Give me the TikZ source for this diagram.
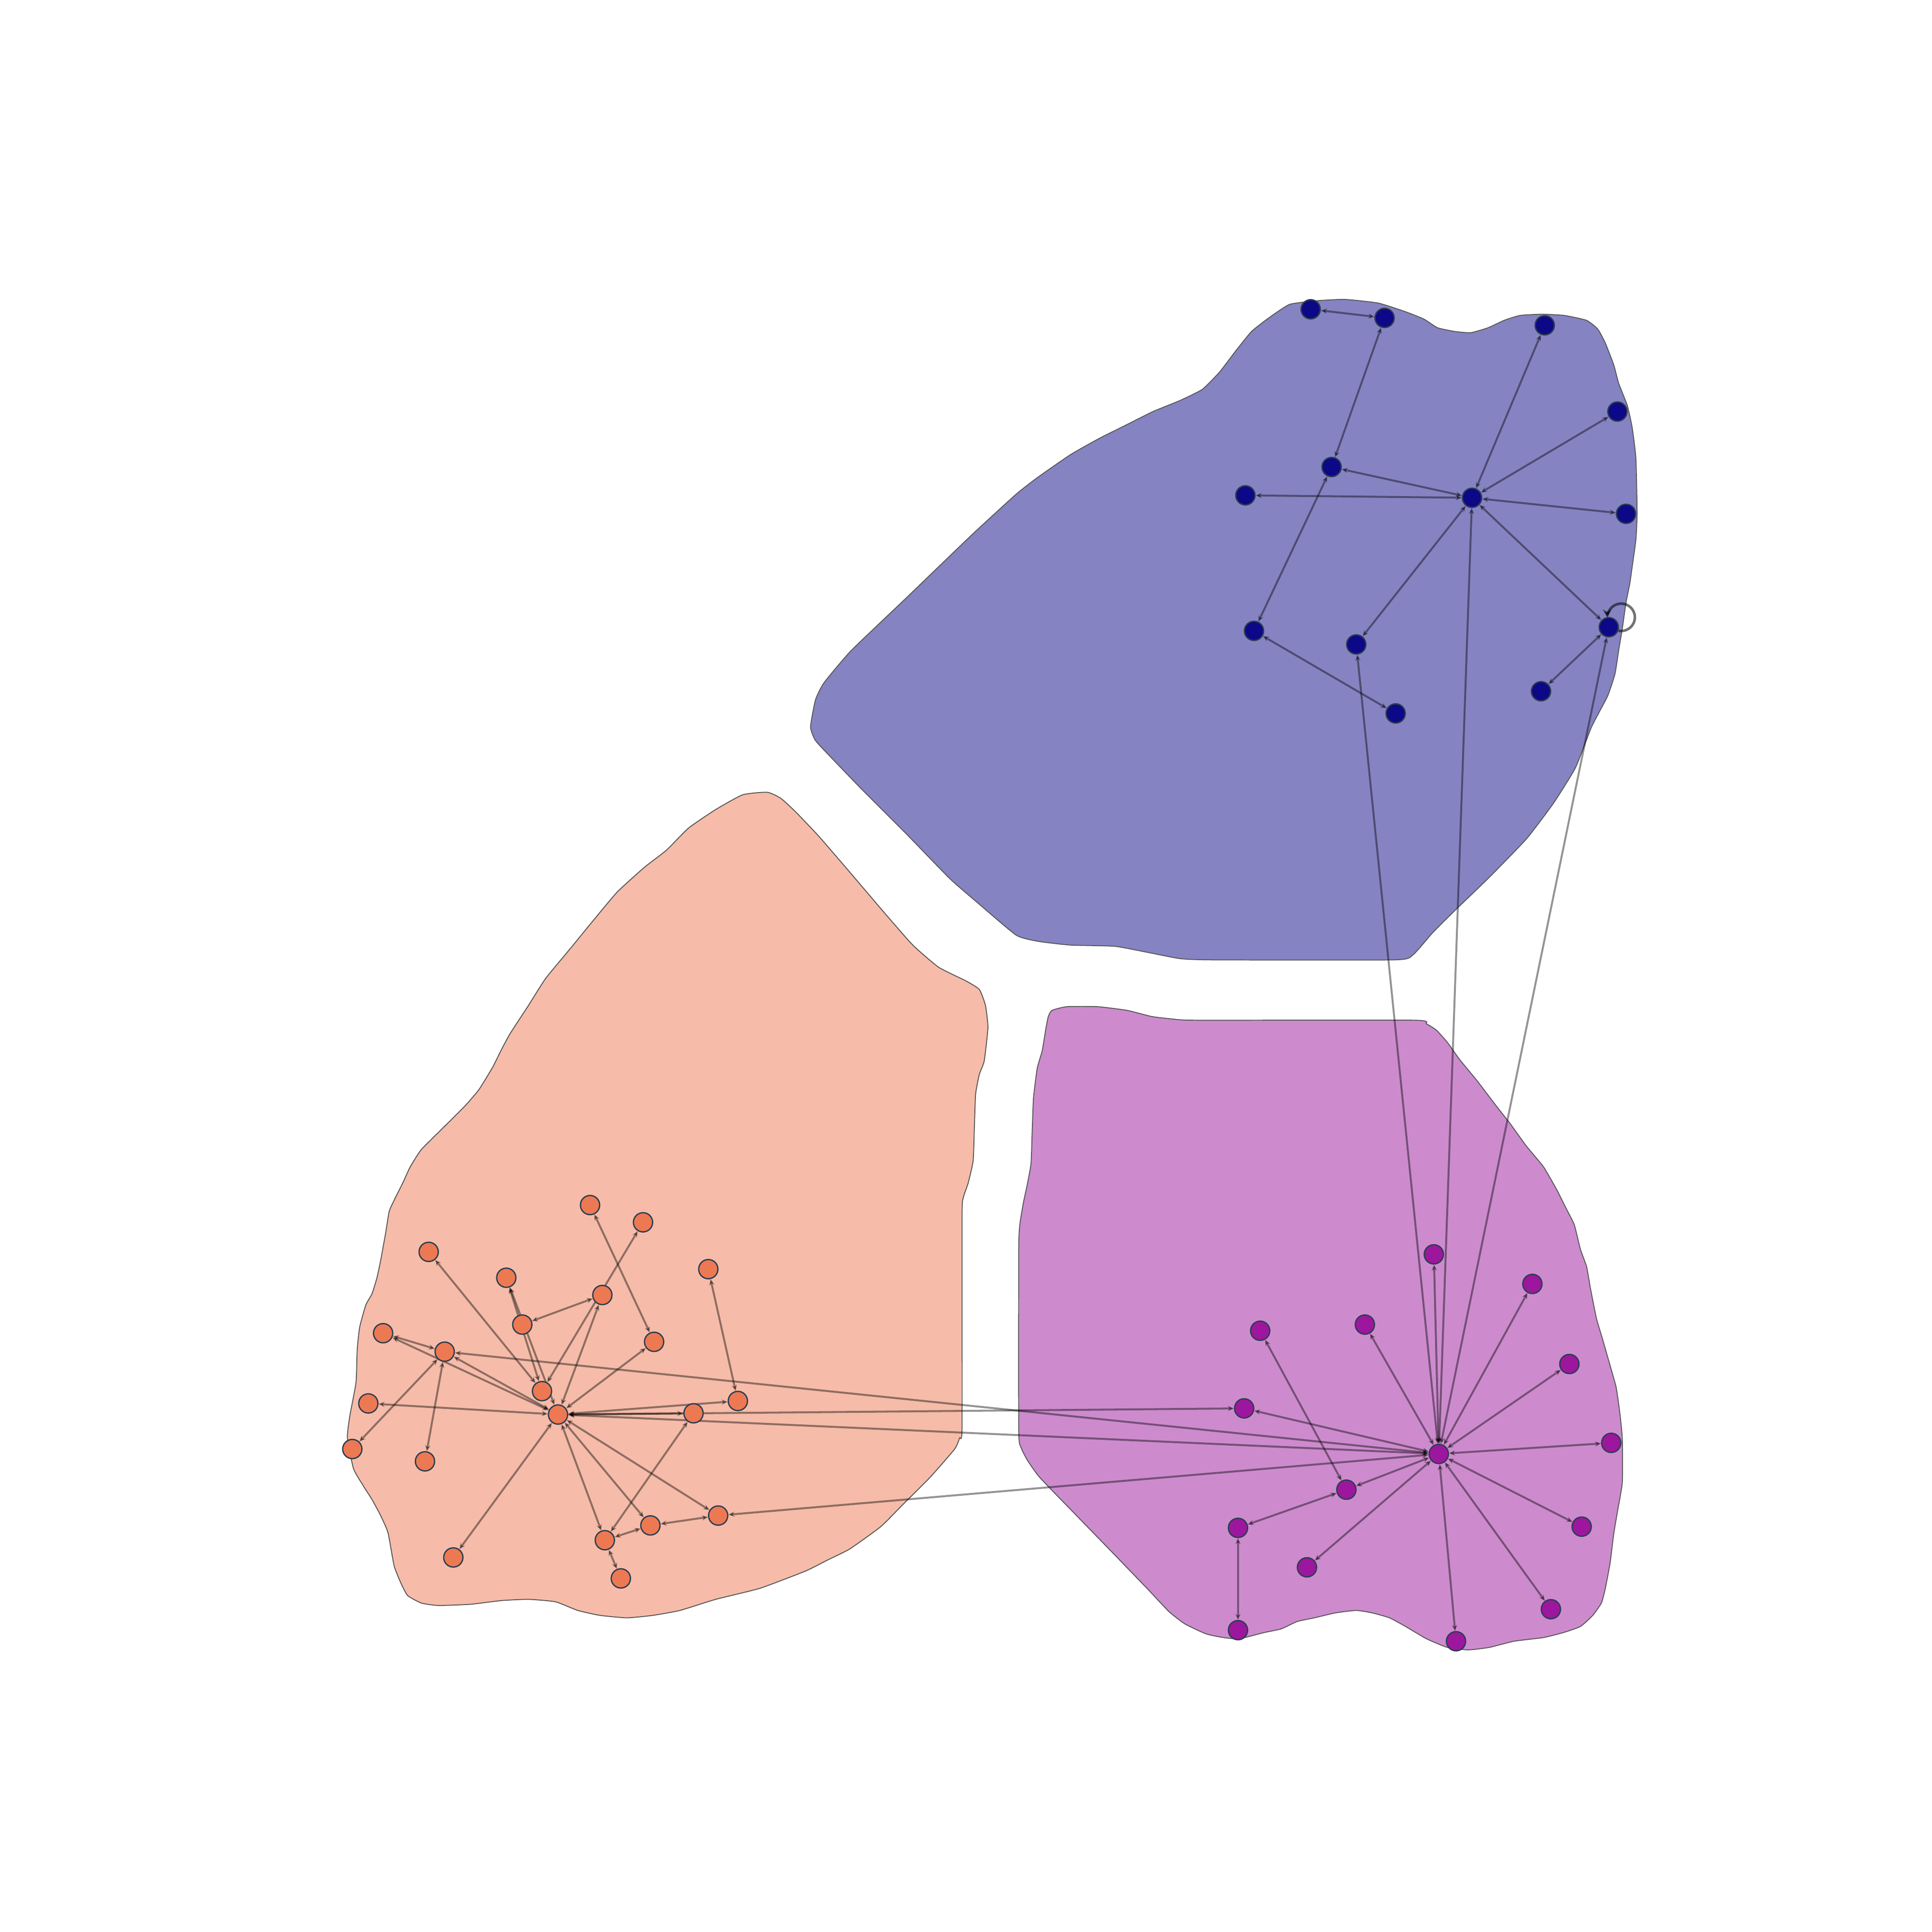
\documentclass[tikz,border=0pt]{standalone}
\usepackage{tikz}
\usetikzlibrary{arrows.meta}

\definecolor{ocol}{HTML}{ED7953}
\definecolor{pcol}{HTML}{9C179E}
\definecolor{bcol}{HTML}{0D0887}
\definecolor{rimcol}{HTML}{2C3E50}

\pgfdeclarelayer{blobs}
\pgfdeclarelayer{links}
\pgfsetlayers{blobs,links,main}

\tikzset{
  vert/.style={circle,inner sep=0pt,minimum size=0.156cm,draw=rimcol,line width=0.3pt},
  onode/.style={vert,fill=ocol},
  pnode/.style={vert,fill=pcol},
  bnode/.style={vert,fill=bcol},
  link/.style={draw=black,opacity=0.42,line width=0.45pt,
    arrows={Stealth[length=1.4pt,width=1.2pt]-Stealth[length=1.4pt,width=1.2pt]}},
  selfloop/.style={draw=black,opacity=0.55,line width=0.6pt,
    arrows={-Stealth[length=2pt,width=2pt]}},
  blob/.style={draw=black!65,line width=0.22pt,smooth cycle,tension=0.3}
}

\begin{document}
\begin{tikzpicture}[x=0.01cm,y=-0.01cm]
\useasboundingbox (0,0) rectangle (1568,1568);

% orange group
\node[onode] (o1) at (479,978) {};
\node[onode] (o2) at (522,992) {};
\node[onode] (o3) at (348,1016) {};
\node[onode] (o4) at (575,1030) {};
\node[onode] (o5) at (411,1037) {};
\node[onode] (o6) at (489,1051) {};
\node[onode] (o7) at (424,1075) {};
\node[onode] (o8) at (531,1089) {};
\node[onode] (o9) at (311,1082) {};
\node[onode] (o10) at (361,1097) {};
\node[onode] (o11) at (440,1129) {};
\node[onode] (o12) at (599,1137) {};
\node[onode] (o13) at (299,1139) {};
\node[onode] (o14) at (453,1148) {};
\node[onode] (o15) at (563,1147) {};
\node[onode] (o16) at (286,1176) {};
\node[onode] (o17) at (345,1186) {};
\node[onode] (o18) at (583,1230) {};
\node[onode] (o19) at (528,1238) {};
\node[onode] (o20) at (491,1250) {};
\node[onode] (o21) at (368,1264) {};
\node[onode] (o22) at (504,1281) {};

% purple group
\node[pnode] (p1) at (1164,1018) {};
\node[pnode] (p2) at (1244,1042) {};
\node[pnode] (p3) at (1108,1075) {};
\node[pnode] (p4) at (1023,1080) {};
\node[pnode] (p5) at (1274,1107) {};
\node[pnode] (p6) at (1010,1143) {};
\node[pnode] (p7) at (1168,1180) {};
\node[pnode] (p8) at (1308,1171) {};
\node[pnode] (p9) at (1093,1209) {};
\node[pnode] (p10) at (1005,1240) {};
\node[pnode] (p11) at (1284,1239) {};
\node[pnode] (p12) at (1061,1272) {};
\node[pnode] (p13) at (1259,1306) {};
\node[pnode] (p14) at (1005,1323) {};
\node[pnode] (p15) at (1182,1332) {};

% blue group
\node[bnode] (b1) at (1064,251) {};
\node[bnode] (b2) at (1124,258) {};
\node[bnode] (b3) at (1254,264) {};
\node[bnode] (b4) at (1313,334) {};
\node[bnode] (b5) at (1081,379) {};
\node[bnode] (b6) at (1011,402) {};
\node[bnode] (b7) at (1195,404) {};
\node[bnode] (b8) at (1320,417) {};
\node[bnode] (b9) at (1306,509) {};
\node[bnode] (b10) at (1018,512) {};
\node[bnode] (b11) at (1101,523) {};
\node[bnode] (b12) at (1251,561) {};
\node[bnode] (b13) at (1133,579) {};

\begin{pgfonlayer}{links}
\foreach \t in {o5,o6,o8,o9,o10,o12,o13,o15,o18,o19,o20,o21}
  \draw[link] (o14) -- (\t);
\foreach \s/\t in {o1/o8,o2/o11,o3/o11,o4/o12,o5/o11,o6/o7,o9/o10,o10/o16,
  o10/o17,o15/o20,o19/o20,o18/o19,o20/o22}
  \draw[link] (\s) -- (\t);

\foreach \t in {p1,p2,p3,p5,p6,p8,p9,p11,p12,p13,p15}
  \draw[link] (p7) -- (\t);
\foreach \s/\t in {p4/p9,p9/p10,p10/p14}
  \draw[link] (\s) -- (\t);

\foreach \t in {b3,b4,b5,b6,b8,b9,b11}
  \draw[link] (b7) -- (\t);
\foreach \s/\t in {b1/b2,b2/b5,b5/b10,b9/b12,b10/b13}
  \draw[link] (\s) -- (\t);

\foreach \s/\t in {o10/p7,o14/p7,o18/p7,o14/p6,b11/p7,b7/p7,b9/p7}
  \draw[link] (\s) -- (\t);

\draw[selfloop] (b9.-20) arc[start angle=258.3,end angle=542.7,radius=0.111cm];
\end{pgfonlayer}

\begin{pgfonlayer}{blobs}
\path[blob,fill=ocol!50] plot coordinates {
 (623,643) (634,648) (646,659) (665,679) (690,708) (719,742) (741,767)
 (762,785) (784,796) (795,803) (800,816) (802,834) (799,861) (795,872)
 (792,888) (791,915) (790,942) (786,960) (782,972) (781,987) (781,1158)
 (779,1167) (775,1176) (755,1199) (733,1221) (715,1239) (690,1257)
 (672,1266) (654,1275) (617,1289) (581,1298) (552,1307) (530,1311)
 (509,1313) (487,1311) (469,1307) (451,1300) (429,1298) (407,1299)
 (382,1302) (356,1303) (342,1301) (331,1295) (326,1286) (320,1271)
 (315,1244) (309,1230) (302,1217) (295,1206) (287,1192) (282,1167)
 (284,1149) (289,1122) (290,1095) (292,1077) (297,1059) (302,1050)
 (306,1037) (309,1023) (313,1001) (316,983) (320,974) (327,960) (333,947)
 (342,933) (360,915) (378,897) (389,884) (400,866) (407,852) (414,839)
 (429,816) (443,794) (462,771) (480,749) (501,724) (523,704) (541,690)
 (559,672) (581,657) (603,645)};

\path[blob,fill=pcol!50] plot coordinates {
 (854,820) (866,817) (891,817) (915,820) (935,825) (952,827) (972,828)
 (1148,828) (1158,831) (1166,836) (1175,846) (1185,860) (1199,877)
 (1215,898) (1226,912) (1239,930) (1253,947) (1264,966) (1271,980)
 (1278,994) (1283,1014) (1288,1028) (1291,1045) (1296,1070) (1301,1087)
 (1307,1108) (1312,1126) (1315,1147) (1317,1168) (1317,1203) (1313,1227)
 (1310,1245) (1307,1269) (1303,1290) (1300,1301) (1293,1311) (1283,1320)
 (1269,1325) (1253,1329) (1229,1332) (1209,1337) (1192,1339) (1175,1337)
 (1158,1330) (1141,1320) (1128,1313) (1114,1309) (1101,1307) (1084,1309)
 (1067,1313) (1053,1316) (1040,1322) (1026,1325) (1006,1330) (993,1329)
 (979,1326) (962,1318) (949,1308) (932,1290) (905,1262) (871,1227)
 (844,1199) (834,1185) (829,1175) (827,1161) (827,1014) (828,993)
 (831,975) (834,961) (837,944) (838,916) (839,891) (842,867) (846,853)
 (849,835) (851,825)};

\path[blob,fill=bcol!50] plot coordinates {
 (658,590) (662,601) (674,614) (700,641) (736,677) (771,713) (794,733)
 (825,759) (843,764) (869,767) (905,768) (932,773) (958,778) (985,779)
 (1132,779) (1147,775) (1163,757) (1181,739) (1208,713) (1239,681)
 (1261,652) (1279,623) (1292,590) (1305,565) (1311,547) (1314,528)
 (1317,510) (1320,489) (1323,474) (1325,460) (1328,438) (1329,416)
 (1328,372) (1325,347) (1321,329) (1314,311) (1310,296) (1303,278)
 (1297,267) (1288,260) (1270,256) (1252,255) (1234,256) (1221,260)
 (1208,266) (1194,270) (1181,269) (1167,266) (1156,259) (1141,253)
 (1119,246) (1092,243) (1070,244) (1047,247) (1030,258) (1016,269)
 (1003,285) (990,302) (976,316) (958,325) (936,334) (914,345) (892,356)
 (869,369) (843,387) (825,401) (789,434) (736,485) (691,528) (669,554)
 (662,568)};
\end{pgfonlayer}
\end{tikzpicture}
\end{document}
